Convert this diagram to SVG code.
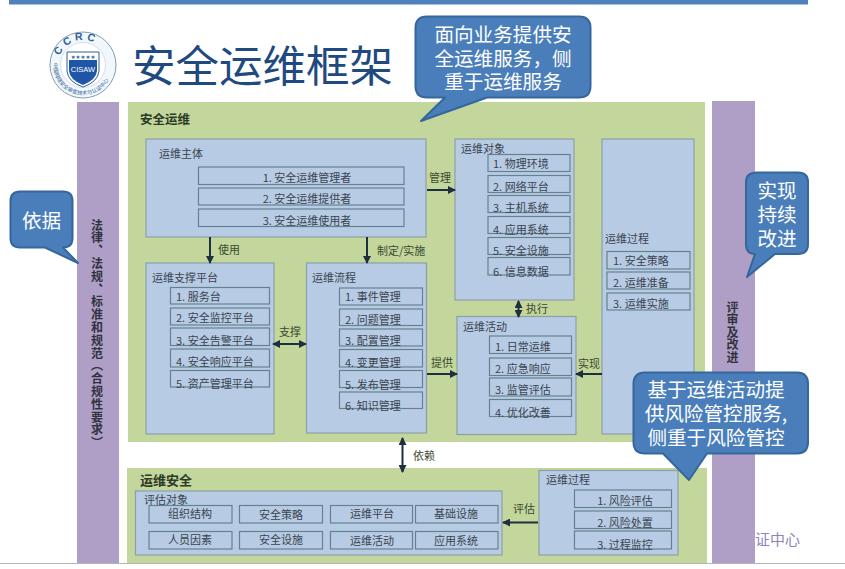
<svg xmlns="http://www.w3.org/2000/svg" width="845" height="569" viewBox="0 0 845 569">
<style>
text{font-family:"Noto Sans CJK SC","Liberation Sans",sans-serif;fill:#3a4350}
.band{fill:#af9ec5}
.green{fill:#c3d69b}
.box{fill:#b7cce4;stroke:#8aa0a8;stroke-width:1.2}
.in{fill:#b7cce4;stroke:#66808f;stroke-width:1.2}
.t{font-size:11px}
.m{text-anchor:middle}
.h{font-size:12.5px;font-weight:700;fill:#2c3a28}
.v{font-size:12px;font-weight:700;fill:#2f3340;writing-mode:vertical-rl}
.call{fill:#4a7ebb;stroke:#35669c;stroke-width:2;stroke-linejoin:round}
.ct{font-size:19.6px;fill:#fff;text-anchor:middle}
.con{fill:none;stroke:#1e3040;stroke-width:2}
.l{font-size:11px;fill:#3a4a30}
</style>
<defs>
<marker id="a" viewBox="0 0 8 8" refX="7" refY="4" markerWidth="4" markerHeight="4" orient="auto-start-reverse"><path d="M0 0L8 4L0 8Z" fill="#1e3040"/></marker>
<path id="ringTop" d="M58 65A25 25 0 0 1 108 65"/>
<path id="ringBot" d="M54 60A29.500 29.500 0 1 0 112 60"/>
</defs>
<rect x="9" y="0" width="799" height="4.500" fill="#4f81bd"/>
<rect x="0" y="563" width="845" height="1" fill="#b5b5b5"/>
<g id="logo">
<circle cx="83" cy="65" r="33" fill="#f2f7fb" stroke="#7f9db5" stroke-width="1"/>
<circle cx="83" cy="65" r="22.500" fill="#fff" stroke="#c4d3df" stroke-width="0.700"/>
<text font-size="10.500" font-weight="700" style="fill:#2f5f98;font-family:'Liberation Sans',sans-serif" letter-spacing="3.500"><textPath href="#ringTop" startOffset="9">CCRC</textPath></text>
<text font-size="5.300" style="fill:#2f5f98"><textPath href="#ringBot" startOffset="3">中国网络安全审查技术与认证中心</textPath></text>
<path d="M67 52H99V71Q98 82 83 87Q68 82 67 71Z" fill="#fff" stroke="#2f5f98" stroke-width="1"/>
<path d="M69 60H97V71Q96 80 83 85Q70 80 69 71Z" fill="#1f55a5"/>
<text x="83" y="58.500" font-size="5.500" text-anchor="middle" style="fill:#2f5f98;font-family:'DejaVu Sans',sans-serif">★★★★★</text>
<text x="83" y="72" font-size="7.500" text-anchor="middle" style="fill:#fff;font-family:'Liberation Sans',sans-serif">CISAW</text>
</g>
<text id="title" x="132" y="82" font-size="43.500" style="fill:#1f4a80">安全运维框架</text>
<g id="left-band"><rect class="band" x="77" y="102" width="42" height="461"/>
<text class="v" x="97" y="219" letter-spacing="0.800">法律、法规、标准和规范（合规性要求）</text></g>
<g id="right-band"><rect class="band" x="712" y="101" width="43" height="462"/>
<text class="v" x="732.500" y="301" letter-spacing="0.600">评审及改进</text></g>
<rect class="green" x="128" y="102" width="577" height="340"/>
<rect class="green" x="127" y="468" width="580" height="95"/>
<text class="h" x="140" y="124">安全运维</text>
<text class="h" x="140" y="485" style="font-size:13px">运维安全</text>

<g id="subject"><rect class="box" x="146" y="139" width="280" height="98"/><text class="t" x="159" y="158">运维主体</text>
<rect class="in" x="198.500" y="167" width="205.500" height="17.500"/><text class="t m" x="307" y="182">1. 安全运维管理者</text>
<rect class="in" x="198.500" y="188" width="205.500" height="17"/><text class="t m" x="307" y="203">2. 安全运维提供者</text>
<rect class="in" x="198.500" y="209" width="205.500" height="17.500"/><text class="t m" x="307" y="225">3. 安全运维使用者</text></g>

<g id="support"><rect class="box" x="146" y="263" width="128" height="171"/><text class="t" x="152" y="282">运维支撑平台</text>
<rect class="in" x="170.500" y="287.500" width="99" height="16.500"/><text class="t" x="176" y="301">1. 服务台</text>
<rect class="in" x="170.500" y="308" width="99" height="17"/><text class="t" x="176" y="322">2. 安全监控平台</text>
<rect class="in" x="170.500" y="328" width="99" height="17.500"/><text class="t" x="176" y="345">3. 安全告警平台</text>
<rect class="in" x="170.500" y="349" width="99" height="18"/><text class="t" x="176" y="366">4. 安全响应平台</text>
<rect class="in" x="170.500" y="370.500" width="99" height="16.500"/><text class="t" x="176" y="388">5. 资产管理平台</text></g>

<g id="flow"><rect class="box" x="306.500" y="263" width="120" height="170"/><text class="t" x="312" y="282">运维流程</text>
<rect class="in" x="339.500" y="288" width="83" height="17"/><text class="t" x="345" y="301">1. 事件管理</text>
<rect class="in" x="339.500" y="309" width="83" height="16.500"/><text class="t" x="345" y="324">2. 问题管理</text>
<rect class="in" x="339.500" y="329" width="83" height="17"/><text class="t" x="345" y="345">3. 配置管理</text>
<rect class="in" x="339.500" y="349.500" width="83" height="17.500"/><text class="t" x="345" y="367">4. 变更管理</text>
<rect class="in" x="339.500" y="370.500" width="83" height="17"/><text class="t" x="345" y="389">5. 发布管理</text>
<rect class="in" x="339.500" y="392" width="83" height="16.500"/><text class="t" x="345" y="410">6. 知识管理</text></g>

<g id="objects"><rect class="box" x="455" y="139" width="119" height="161"/><text class="t" x="461" y="153">运维对象</text>
<rect class="in" x="488" y="154.500" width="82" height="17"/><text class="t" x="493" y="168">1. 物理环境</text>
<rect class="in" x="488" y="175.500" width="82" height="17"/><text class="t" x="493" y="191">2. 网络平台</text>
<rect class="in" x="488" y="195.500" width="82" height="17"/><text class="t" x="493" y="212">3. 主机系统</text>
<rect class="in" x="488" y="216.500" width="82" height="17"/><text class="t" x="493" y="234">4. 应用系统</text>
<rect class="in" x="488" y="237.500" width="82" height="17"/><text class="t" x="493" y="255">5. 安全设施</text>
<rect class="in" x="488" y="257.500" width="82" height="17.500"/><text class="t" x="493" y="276">6. 信息数据</text></g>

<g id="activity"><rect class="box" x="457" y="316.500" width="119" height="118"/><text class="t" x="463" y="331">运维活动</text>
<rect class="in" x="489.500" y="336" width="82" height="17.500"/><text class="t" x="495" y="351">1. 日常运维</text>
<rect class="in" x="489.500" y="358" width="82" height="17.500"/><text class="t" x="495" y="373">2. 应急响应</text>
<rect class="in" x="489.500" y="378" width="82" height="18"/><text class="t" x="495" y="394">3. 监管评估</text>
<rect class="in" x="489.500" y="399.500" width="82" height="17"/><text class="t" x="495" y="417">4. 优化改善</text></g>

<g id="process"><rect class="box" x="602" y="139" width="92" height="295"/><text class="t" x="605" y="243">运维过程</text>
<rect class="in" x="607" y="251.500" width="83" height="17.500"/><text class="t" x="613" y="265">1. 安全策略</text>
<rect class="in" x="607" y="272" width="83" height="17"/><text class="t" x="613" y="287">2. 运维准备</text>
<rect class="in" x="607" y="293" width="83" height="17"/><text class="t" x="613" y="308">3. 运维实施</text></g>

<g id="assess"><rect class="box" x="135.500" y="491" width="366.500" height="64"/><text class="t" x="144" y="504">评估对象</text>
<rect class="in" x="149" y="505.500" width="83" height="17.500"/><text class="t m" x="190" y="518">组织结构</text>
<rect class="in" x="239.500" y="505.500" width="83" height="17.500"/><text class="t m" x="281" y="519">安全策略</text>
<rect class="in" x="330.500" y="505.500" width="82" height="17.500"/><text class="t m" x="372" y="518">运维平台</text>
<rect class="in" x="415.500" y="505.500" width="82.500" height="17.500"/><text class="t m" x="456" y="518">基础设施</text>
<rect class="in" x="149" y="531.500" width="83" height="17.500"/><text class="t m" x="190" y="544">人员因素</text>
<rect class="in" x="239.500" y="531.500" width="83" height="17.500"/><text class="t m" x="281" y="544">安全设施</text>
<rect class="in" x="330.500" y="531.500" width="82" height="17.500"/><text class="t m" x="372" y="545">运维活动</text>
<rect class="in" x="415.500" y="531.500" width="82.500" height="17.500"/><text class="t m" x="456" y="545">应用系统</text></g>

<g id="risk"><rect class="box" x="539" y="470.500" width="139" height="84.500"/><text class="t" x="546" y="484">运维过程</text>
<rect class="in" x="574.500" y="490" width="97" height="17.500"/><text class="t m" x="625" y="505">1. 风险评估</text>
<rect class="in" x="574.500" y="511" width="97" height="17.500"/><text class="t m" x="625" y="527">2. 风险处置</text>
<rect class="in" x="574.500" y="531" width="97" height="18"/><text class="t m" x="625" y="549">3. 过程监控</text></g>

<g id="connectors">
<path class="con" marker-end="url(#a)" d="M210 237V263"/>
<path class="con" marker-end="url(#a)" d="M367 237V263"/>
<path class="con" marker-end="url(#a)" d="M427 190H455"/>
<path class="con" marker-start="url(#a)" marker-end="url(#a)" d="M273 344H306"/>
<path class="con" marker-end="url(#a)" d="M427 374H457"/>
<path class="con" marker-end="url(#a)" d="M602 374H576"/>
<path class="con" marker-start="url(#a)" marker-end="url(#a)" d="M518.500 301V317"/>
<path class="con" stroke-width="2.500" marker-start="url(#a)" marker-end="url(#a)" d="M402.500 438V472"/>
<path class="con" marker-end="url(#a)" d="M538 522.500H503"/>
<text class="l" x="218" y="254">使用</text>
<text class="l" x="377" y="255">制定/实施</text>
<text class="l" x="429" y="182">管理</text>
<text class="l" x="279" y="336">支撑</text>
<text class="l" x="431" y="367">提供</text>
<text class="l" x="578" y="368">实现</text>
<text class="l" x="526" y="313">执行</text>
<text class="l" x="413" y="460">依赖</text>
<text class="l" x="513" y="513">评估</text>
</g>
<text id="fragment" x="755" y="545" font-size="15" style="fill:#8d86bb">证中心</text>

<g id="callout-top"><path class="call" d="M427 16.500H579Q590.500 16.500 590.500 28V86Q590.500 97.500 579 97.500H487L421 121L445 97.500H427Q415.500 97.500 415.500 86V28Q415.500 16.500 427 16.500Z"/>
<text class="ct" x="503" y="42">面向业务提供安</text><text class="ct" x="503" y="66">全运维服务，侧</text><text class="ct" x="503" y="89">重于运维服务</text></g>
<g id="callout-basis"><path class="call" d="M20 191.500H63Q72.500 191.500 72.500 201V238Q72.500 247.500 63 247.500L78 263L45 247.500H20Q10.500 247.500 10.500 238V201Q10.500 191.500 20 191.500Z"/>
<text class="ct" x="41.500" y="228">依据</text></g>
<g id="callout-improve"><path class="call" d="M757 172.500H798Q808 172.500 808 182V244Q808 254 798 254H775L747 277L755 254Q746 254 746 244V182Q746 172.500 757 172.500Z"/>
<text class="ct" x="777" y="198">实现</text><text class="ct" x="777" y="222">持续</text><text class="ct" x="777" y="246">改进</text></g>
<g id="callout-risk"><path class="call" d="M645 372.500H797Q808 372.500 808 384V442Q808 453.500 797 453.500H707L689 480L663 453.500H645Q633.500 453.500 633.500 442V384Q633.500 372.500 645 372.500Z"/>
<text class="ct" x="716" y="397">基于运维活动提</text><text class="ct" x="716" y="421">供风险管控服务,</text><text class="ct" x="716" y="445">侧重于风险管控</text></g>
</svg>
